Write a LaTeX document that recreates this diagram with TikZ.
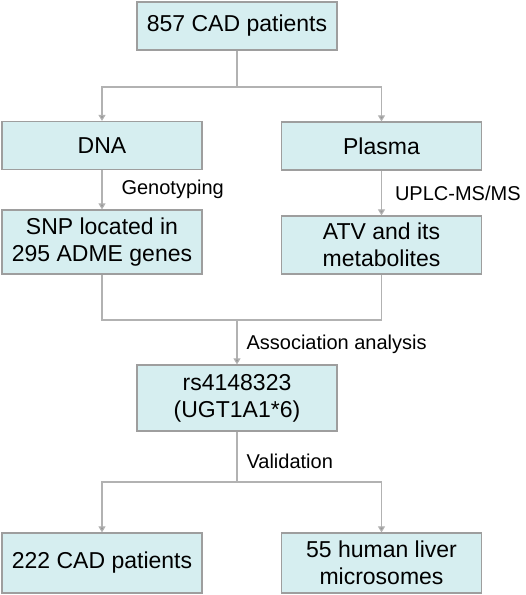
\documentclass[tikz,border=0pt]{standalone}
\usepackage{fontspec}
\setmainfont{Liberation Sans}
\usepackage{xcolor}
\usepackage{tikz}
\usetikzlibrary{arrows.meta}
\definecolor{boxfill}{RGB}{214,238,240}
\definecolor{boxline}{RGB}{158,158,158}
\definecolor{linkgray}{RGB}{178,178,178}
\begin{document}
\begin{tikzpicture}[x=1pt,y=-1pt,
  box/.style={draw=boxline, line width=1.2pt, fill=boxfill, minimum width=200pt, inner sep=0pt, align=center, font=\fontsize{23}{27}\selectfont},
  link/.style={draw=linkgray, line width=1.1pt},
  arr/.style={link, -{Triangle[width=7pt,length=6pt,fill=linkgray!85!black]}},
  lbl/.style={anchor=west, inner sep=0pt, font=\fontsize{20}{24}\selectfont}]
            \useasboundingbox (0,0) rectangle (526,595);
            \node [box, minimum height=48pt] (top) at (237,26) {857 CAD patients};
            \node [box, minimum height=48pt] (dna) at (102,145.5) {DNA};
            \node [box, minimum height=48pt] (plasma) at (381.5,146) {Plasma};
            \node [box, minimum height=64pt] (snp) at (102,242) {SNP located in\\295 ADME genes};
            \node [box, minimum height=58pt] (atv) at (381.5,245) {ATV and its\\metabolites};
            \node [box, minimum height=66pt] (rs) at (237,398) {rs4148323\\(UGT1A1*6)};
            \node [box, minimum height=60pt] (cad) at (102,563) {222 CAD patients};
            \node [box, minimum height=60pt] (hlm) at (381.5,563) {55 human liver\\microsomes};
            \coordinate (split) at (237,87);
            \coordinate (merge) at (237,320);
            \coordinate (valid) at (237,482);
            \draw [link] (top.south) -- (split);
            \draw [arr] (split) -| (dna.north);
            \draw [arr] (split) -| (plasma.north);
            \draw [arr] (dna.south) -- node [lbl, xshift=19pt] {Genotyping} (snp.north);
            \draw [arr] (plasma.south) -- node [lbl, xshift=13pt] {UPLC-MS/MS} (atv.north);
            \draw [link] (snp.south) |- (merge);
            \draw [link] (atv.south) |- (merge);
            \draw [arr] (merge) -- node [lbl, xshift=9pt, yshift=-2pt] {Association analysis} (rs.north);
            \draw [link] (rs.south) -- node [lbl, xshift=9pt, yshift=-5pt] {Validation} (valid);
            \draw [arr] (valid) -| (cad.north);
            \draw [arr] (valid) -| (hlm.north);
        \end{tikzpicture}
\end{document}
